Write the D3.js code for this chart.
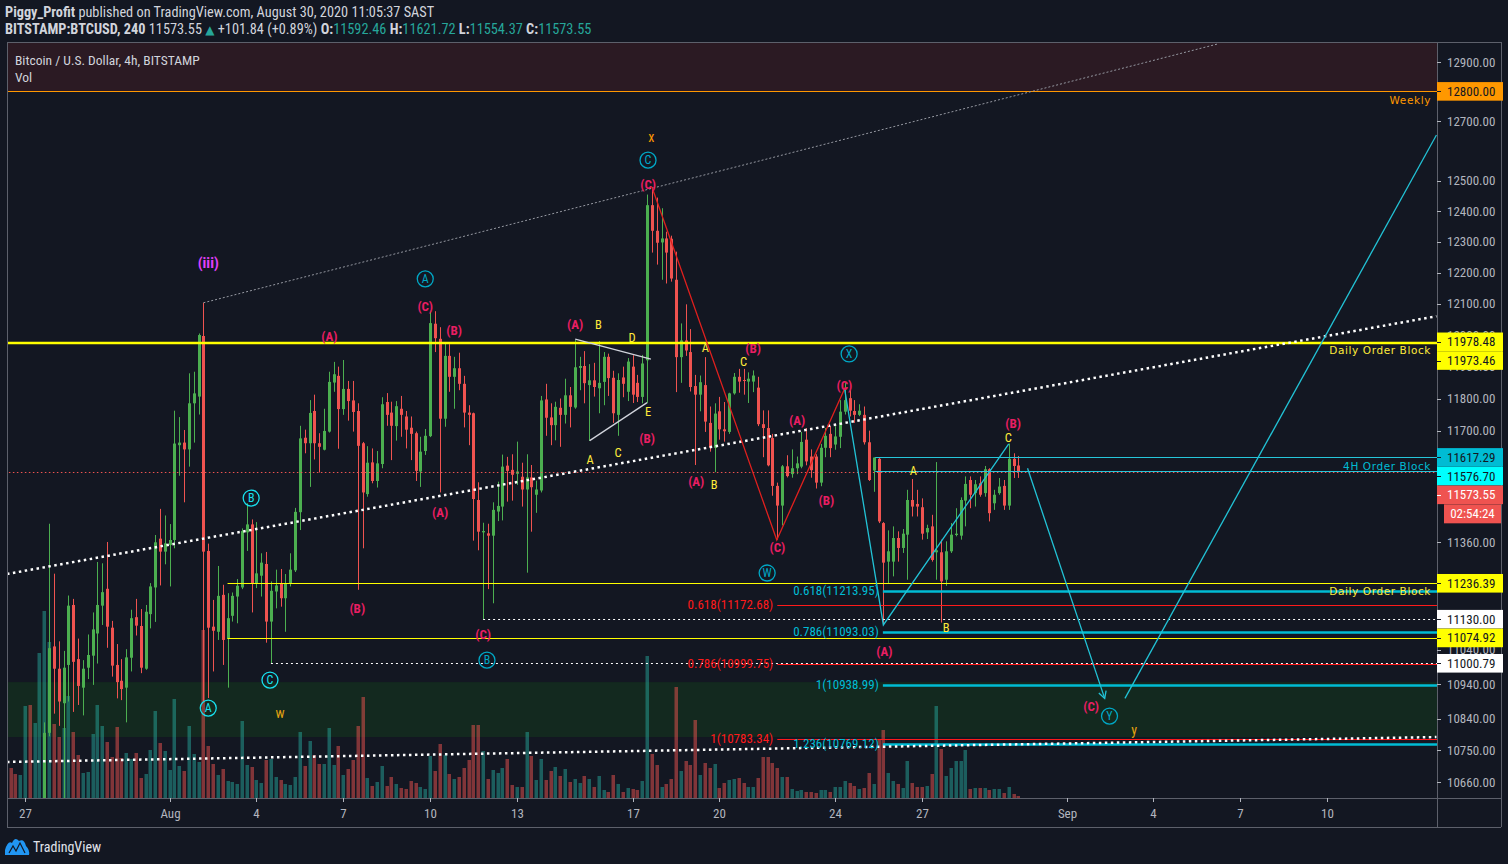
<!DOCTYPE html>
<html><head><meta charset="utf-8">
<script src="https://cdn.jsdelivr.net/npm/d3@7/dist/d3.min.js"></script>
<style>html,body{margin:0;padding:0;background:#131722;overflow:hidden}svg{display:block}</style>
</head><body>
<svg id="chart" width="1508" height="864"></svg>
<script>
// ---------------- DATA (4h bars, BITSTAMP:BTCUSD, first bar = 2020-07-26 12:00 UTC) ----------------
const opens=[9950,9880,9840,9900,10010,9960,10050,10180,10800,11050,
10985,10885,10996,11172,11013,10930,10988,11023,11088,11170,
11220,11105,10996,10950,10930,11017,11136,11110,10985,11145,
11224,11370,11331,11351,11366,11655,11663,11642,11785,11806,
11997,11333,11108,11093,11202,11072,11140,11197,11224,11389,
11413,11237,11259,11294,11123,11212,11237,11192,11237,11275,
11450,11678,11661,11761,11661,11641,11697,11850,11871,11767,
11830,11794,11761,11661,11505,11602,11545,11597,11789,11756,
11714,11768,11744,11709,11692,11574,11637,11683,12036,11988,
11737,11934,11868,11895,11846,11756,11754,11487,11389,11386,
11379,11452,11467,11592,11579,11567,11558,11519,11556,11503,
11516,11797,11741,11717,11771,11749,11810,11772,11896,11902,
11842,11857,11832,11852,11931,11865,11749,11866,11821,11900,
11849,11805,11920,12420,12336,12298,12311,12310,12177,11930,
11983,11946,11839,11812,11842,11724,11647,11760,11704,11696,
11816,11868,11858,11853,11853,11834,11720,11708,11677,11530,
11470,11590,11566,11584,11589,11672,11620,11620,11540,11647,
11690,11657,11681,11759,11801,11761,11749,11749,11664,11577,
11613,11417,11301,11301,11372,11342,11382,11487,11475,11465,
11389,11407,11329,11329,11247,11332,11381,11379,11485,11548,
11508,11538,11508,11581,11477,11508,11530,11470,11613,11592.46];
const highs=[9990,9960,9930,10060,10080,10090,10230,10830,11415,11265,
11065,11037,11200,11190,11073,11010,11085,11150,11300,11296,
11360,11125,11057,11013,11042,11158,11190,11160,11172,11237,
11381,11460,11440,11414,11762,11742,11702,11879,11884,12005,
12103,11355,11187,11288,11232,11207,11209,11249,11401,11477,
11428,11420,11326,11330,11242,11277,11279,11264,11326,11463,
11715,11703,11795,11812,11692,11768,11884,11915,11900,11921,
11855,11855,11785,11665,11652,11645,11637,11804,11817,11790,
11792,11808,11761,11744,11697,11681,11705,12078,12076,12025,
11978,11971,11931,11944,11871,11779,11756,11541,11418,11415,
11480,11543,11626,11619,11627,11666,11601,11627,11594,11546,
11808,11846,11785,11790,11800,11862,11836,11984,11931,11949,
11908,11912,11981,11946,11941,11887,11879,11900,11927,11936,
11874,11937,12455,12480,12445,12410,12333,12320,12268,12037,
12098,12019,11874,11872,11930,11775,11785,11805,11789,11818,
11880,11893,11893,11882,11888,11868,11763,11763,11690,11540,
11594,11624,11642,11620,11696,11708,11642,11627,11659,11708,
11714,11714,11795,11850,11826,11795,11782,11775,11700,11617,
11617,11420,11395,11407,11392,11399,11518,11551,11518,11492,
11412,11442,11603,11367,11362,11417,11462,11495,11559,11559,
11548,11559,11591,11584,11518,11554,11548,11660,11630,11621.72];
const lows=[9860,9800,9810,9880,9940,9930,10020,10150,10790,10855,
10820,10600,10890,10860,10880,10850,10955,10938,11000,11113,
11046,10962,10899,10894,10830,10977,11082,10972,10982,11103,
11122,11230,11293,11227,11341,11561,11480,11589,11663,11750,
10890,10900,10977,11069,10996,10930,11123,11118,11219,11333,
11150,11222,11197,11061,11001,11162,11167,11093,11227,11270,
11396,11630,11527,11611,11571,11639,11694,11821,11644,11749,
11731,11697,11217,11341,11497,11538,11525,11584,11715,11609,
11669,11681,11645,11609,11545,11527,11625,11680,11946,11510,
11712,11821,11768,11826,11710,11655,11364,11335,11130,11219,
11177,11423,11425,11482,11485,11533,11467,11268,11391,11448,
11510,11684,11655,11670,11650,11722,11710,11768,11826,11785,
11668,11806,11754,11779,11808,11724,11684,11804,11792,11786,
11789,11785,11786,12265,12226,12177,12165,12171,11820,11849,
11934,11822,11594,11760,11696,11635,11572,11672,11666,11690,
11812,11818,11812,11786,11820,11714,11618,11590,11500,11367,
11410,11556,11555,11566,11584,11593,11555,11522,11529,11618,
11618,11641,11646,11750,11744,11724,11745,11657,11545,11512,
11417,11113,11235,11257,11301,11327,11247,11437,11437,11367,
11369,11301,11247,11120,11229,11327,11377,11367,11407,11462,
11467,11497,11497,11422,11457,11503,11457,11457,11554,11554.37];
const closes=[9880,9840,9900,10010,9960,10050,10180,10800,11045,10985,
10890,10988,11170,11005,10935,10985,11025,11100,11172,11210,
11108,10994,10946,10926,11018,11133,11111,10988,11152,11227,
11359,11331,11356,11366,11660,11663,11642,11785,11816,12000,
11331,11105,11096,11199,11069,11133,11199,11229,11393,11413,
11237,11266,11298,11123,11214,11230,11192,11237,11277,11451,
11676,11661,11755,11661,11650,11699,11852,11876,11767,11830,
11792,11758,11653,11510,11601,11545,11599,11782,11749,11715,
11776,11749,11703,11690,11576,11635,11684,12038,11990,11737,
11934,11868,11895,11846,11756,11749,11490,11391,11393,11379,
11457,11469,11589,11576,11564,11574,11519,11556,11526,11519,
11794,11740,11717,11774,11749,11810,11774,11898,11902,11848,
11857,11836,11849,11931,11864,11754,11858,11846,11916,11812,
11805,11910,12420,12336,12297,12311,12265,12181,11930,11983,
11951,11836,11812,11851,11728,11647,11753,11704,11698,11816,
11868,11853,11856,11862,11872,11720,11708,11593,11530,11470,
11590,11560,11584,11599,11665,11605,11578,11540,11647,11684,
11646,11682,11759,11795,11762,11749,11762,11664,11548,11617,
11422,11298,11332,11372,11342,11385,11487,11467,11467,11385,
11402,11306,11335,11242,11332,11382,11385,11487,11536,11503,
11535,11503,11581,11447,11503,11528,11470,11613,11591,11573.55];
// volume, relative units
const volumes=[30,24,23,92,93,75,145,187,156,74,61,70,102,66,43,25,26,64,93,72,
56,41,71,40,45,39,45,20,24,48,87,55,47,28,99,32,27,72,44,36,
168,52,34,23,29,17,16,14,77,33,31,18,15,38,39,21,18,14,13,21,
66,32,57,43,34,34,70,33,52,23,29,38,72,101,20,12,16,32,12,21,
14,10,9,17,15,11,9,42,27,54,43,24,19,21,30,38,73,73,47,19,
28,25,30,39,13,11,11,66,42,18,39,18,27,31,22,29,16,19,15,22,
19,11,22,8,6,23,14,6,10,9,8,17,142,44,33,11,14,19,111,27,
37,33,78,23,35,30,34,10,15,18,19,20,15,11,11,20,41,41,35,30,
21,21,9,7,8,6,6,5,8,8,6,11,11,17,15,12,9,10,25,14,
58,68,25,17,14,10,37,15,11,11,12,24,92,49,22,30,37,37,48,9,
10,10,10,8,9,9,5,11,4,2];

// axis ticks
const priceTicks=[12900,12800,12700,12500,12400,12300,12200,12100,12000,11900,11800,11700,11360,11040,10940,10840,10750,10660];
const dateTicks=["2020-07-27","2020-08-01","2020-08-04","2020-08-07","2020-08-10","2020-08-13","2020-08-17","2020-08-20","2020-08-24","2020-08-27","2020-09-01","2020-09-04","2020-09-07","2020-09-10"];
const dateLabels=["27","Aug","4","7","10","13","17","20","24","27","Sep","4","7","10"];

// zones (price ranges)
const weeklyZone=[12800,13200];
const demandZone=[10788,10946];

// horizontal levels: [price, start bar]
const dailyOB=[[11978.48,-2],[11973.46,-2]];
const dailyOBLow=[[11236.39,45],[11074.92,45]];
const whiteDotLevels=[[11130.00,98],[11000.79,54]];
const fourHourOB=[[11617.29,179.3],[11576.70,179.3]];
const weeklyLevel=[12800,-2];
const lastPrice=11573.55;
const redFib=[["0.618",11172.68],["0.786",10999.75],["1",10783.34]];
const redFibStart=159;
const cyanFib=[["0.618",11213.95],["0.786",11093.03],["1",10938.99],["1.236",10769.12]];
const cyanFibStart=180.9;

// trend lines: [bar, price] pairs
const greyTrend=[[40,12103],[250.4,12962]];
const upperTrend=[[-0.73,11264],[295.7,12060]];
const lowerTrend=[[-0.73,10717],[295.7,10788]];
const redZigzag=[[133,12480],[158.9,11366],[173.1,11835]];
const cyanPath=[[173,11827],[181,11113],[207,11659]];
const cyanArrow=[[210.9,11584],[226.9,10899]];
const cyanUp=[[231.1,10899],[295.7,12653]];
const triUpper=[[117.1,11987],[132.8,11924]];
const triLower=[[120.1,11669],[132,11787]];

// wave labels: [bar, price, text]
const pinkLabels=[[66.1,11997,"(A)"],[71.9,11163,"(B)"],[86,12093,"(C)"],[92,12016,"(B)"],[89.1,11451,"(A)"],[98,11086,"(C)"],
[117.1,12035,"(A)"],[132,11677,"(B)"],[132.2,12490,"(C)"],[154,11959,"(B)"],[142.2,11545,"(A)"],[159,11345,"(C)"],
[163.1,11733,"(A)"],[169.2,11487,"(B)"],[172.9,11842,"(C)"],[181.2,11037,"(A)"],[207.9,11724,"(B)"],[224.1,10877,"(C)"]];
const yellowLabels=[[121.9,12035,"B"],[128.9,11991,"D"],[132.2,11758,"E"],[120.2,11612,"A"],[126,11631,"C"],
[144.1,11959,"A"],[145.9,11533,"B"],[152,11915,"C"],[187.2,11576,"A"],[194,11107,"B"],[206.9,11680,"C"]];
const orangeLabels=[[132.9,12646,"x"]];
const goldLabels=[[55.9,10857,"w"],[233,10808,"y"]];
const magentaLabels=[[41,12231,"(iii)"]];
const circledBright=[[41,10871,"A"],[49.9,11493,"B"],[53.8,10952,"C"]];
const circledDark=[[86,12180,"A"],[98.8,11010,"B"],[132.2,12569,"C"],[156.9,11267,"W"],[173.9,11940,"X"],[227.9,10848,"Y"]];

// price-axis marks
const axisMarks=[[12800,"#ff9800","#131722"],[11978.48,"#ffff00","#131722"],[11973.46,"#ffff00","#131722"],
[11617.29,"#00bcd4","#131722"],[11576.70,"#00ffff","#131722"],[11573.55,"#ef5350","#ffffff"],
[11236.39,"#ffff00","#131722"],[11130.00,"#ffffff","#131722"],[11074.92,"#ffff00","#131722"],[11000.79,"#ffffff","#131722"]];
const countdown="02:54:24";

// ---------------- DRAWING ----------------
const svg=d3.select('#chart');
const BG='#131722', TXT='#d1d4dc', AX='#b2b5be', FR='#5d606b';
const UP='#4caf50', DN='#ef5350';
const FONT="'Liberation Sans Narrow','Roboto Condensed',Roboto,sans-serif";
const plotL=7, plotR=1437, plotT=42, plotB=798, axisB=827, outerR=1501;
const T0=Date.UTC(2020,6,26,12), H4=4*3600*1000;
const barTime=i=>new Date(T0+i*H4);
const x=d3.scaleUtc().domain([new Date(Date.UTC(2020,6,27)),new Date(Date.UTC(2020,8,10))]).range([25,1327]);
const y=d3.scaleLog().domain([10660,12900]).range([782.1,62]);
const vy=d3.scaleLinear().domain([0,187]).range([plotB,plotB-187]);
const bx=i=>x(barTime(i));
const cy=v=>Math.round(y(v))+0.5;

svg.append('rect').attr('width',1508).attr('height',864).attr('fill',BG);
svg.append('defs').append('clipPath').attr('id','clip').append('rect')
  .attr('x',plotL).attr('y',plotT).attr('width',plotR-plotL).attr('height',plotB-plotT);

const plot=svg.append('g').attr('clip-path','url(#clip)');
// zones
plot.append('rect').attr('x',plotL).attr('width',plotR-plotL)
  .attr('y',y(weeklyZone[1])).attr('height',y(weeklyZone[0])-y(weeklyZone[1])).attr('fill','#2b1a23');
plot.append('rect').attr('x',plotL).attr('width',plotR-plotL)
  .attr('y',y(demandZone[1])).attr('height',y(demandZone[0])-y(demandZone[1])).attr('fill','#13291f');

// volume
const idx=d3.range(opens.length);
plot.append('g').selectAll('rect').data(idx).join('rect')
  .attr('x',i=>Math.round(bx(i))-1.5).attr('width',3.5)
  .attr('y',i=>vy(volumes[i])).attr('height',i=>plotB-vy(volumes[i]))
  .attr('fill',i=>closes[i]>=opens[i]?'#26a69a':'#ef5350').attr('fill-opacity',0.5);

// candles
const cg=plot.append('g');
cg.selectAll('line').data(idx).join('line')
  .attr('x1',i=>Math.round(bx(i))+0.5).attr('x2',i=>Math.round(bx(i))+0.5)
  .attr('y1',i=>y(highs[i])).attr('y2',i=>y(lows[i]))
  .attr('stroke',i=>closes[i]>=opens[i]?UP:DN).attr('stroke-width',1);
cg.selectAll('rect').data(idx).join('rect')
  .attr('x',i=>Math.round(bx(i))-1).attr('width',3)
  .attr('y',i=>Math.min(y(opens[i]),y(closes[i])))
  .attr('height',i=>Math.max(1,Math.abs(y(opens[i])-y(closes[i]))))
  .attr('fill',i=>closes[i]>=opens[i]?UP:DN);

// horizontal levels
const hline=(p,start,color,w,dash)=>{
  const l=plot.append('line').attr('x1',bx(start)).attr('x2',plotR).attr('y1',w%2?cy(p):y(p)).attr('y2',w%2?cy(p):y(p))
   .attr('stroke',color).attr('stroke-width',w);
  if(dash) l.attr('stroke-dasharray',dash);
};
hline(weeklyLevel[0],weeklyLevel[1],'#ff9800',1);
hline(lastPrice,-2,'#ef5350',1,'1.5,2.5');
dailyOBLow.forEach(d=>hline(d[0],d[1],'#ffff00',1));
fourHourOB.forEach(d=>hline(d[0],d[1],'#26c6da',1));
redFib.forEach(d=>hline(d[1],redFibStart,'#ff1a1a',1));
whiteDotLevels.forEach(d=>hline(d[0],d[1],'#ffffff',1,'2,3'));
cyanFib.forEach(d=>hline(d[1],cyanFibStart,'#00bcd4',2.5));
dailyOB.forEach(d=>hline(d[0],d[1],'#ffff00',1.5));

// trend lines
const line=d3.line().x(d=>bx(d[0])).y(d=>y(d[1]));
const path=(data,color,w,dash)=>{
  const p=plot.append('path').attr('d',line(data)).attr('fill','none').attr('stroke',color).attr('stroke-width',w);
  if(dash) p.attr('stroke-dasharray',dash);
  return p;
};
path(greyTrend,'#9598a1',1,'2,2');
path(upperTrend,'#ffffff',2.5,'2.5,3.5');
path(lowerTrend,'#ffffff',2.5,'2.5,3.5');
path(triUpper,'#d1d4dc',1.3);
path(triLower,'#d1d4dc',1.3);
path(redZigzag,'#e0201e',1.3);
path(cyanPath,'#22c3d6',1.3);
path(cyanArrow,'#22c3d6',1.3);
path(cyanUp,'#22c3d6',1.3);
// arrow head
{
  const [a,b]=cyanArrow; const x1=bx(a[0]),y1=y(a[1]),x2=bx(b[0]),y2=y(b[1]);
  const ang=Math.atan2(y2-y1,x2-x1), L=8, s=0.5;
  const pts=[[x2-L*Math.cos(ang-s),y2-L*Math.sin(ang-s)],[x2,y2],[x2-L*Math.cos(ang+s),y2-L*Math.sin(ang+s)]];
  plot.append('path').attr('d',d3.line()(pts)).attr('fill','none').attr('stroke','#22c3d6').attr('stroke-width',1.3);
}

// level texts
const ltxt=(p,dy,t,c)=>plot.append('text').attr('x',1431).attr('y',y(p)+dy).attr('text-anchor','end')
  .attr('font-family','DejaVu Sans,Verdana,sans-serif').attr('font-size',10.5).attr('letter-spacing',0.6).attr('fill',c).text(t);
ltxt(12800,13,'Weekly','#ff9800');
ltxt(11978.48,12,'Daily Order Block','#ffeb3b');
ltxt(11617.29,13,'4H Order Block','#00bcd4');
ltxt(11236.39,12,'Daily Order Block','#ffeb3b');

// fib texts
const fibText=(arr,start,col)=>arr.forEach(d=>plot.append('text').attr('x',bx(start)-4).attr('y',y(d[1]))
  .attr('dy','0.35em').attr('text-anchor','end').attr('font-family',FONT).attr('font-size',13).attr('fill',col)
  .text(`${d[0]}(${d3.format('.2f')(d[1])})`));
fibText(redFib,redFibStart,'#ff1a1a');
fibText(cyanFib,cyanFibStart,'#00bcd4');

// wave labels
const lab=(arr,col,size,weight)=>arr.forEach(d=>plot.append('text').attr('x',bx(d[0])).attr('y',y(d[1]))
  .attr('dy','0.36em').attr('text-anchor','middle').attr('font-family',FONT).attr('font-size',size)
  .attr('font-weight',weight).attr('fill',col).text(d[2]));
lab(pinkLabels,'#e91e63',13,'bold');
lab(yellowLabels,'#ffeb3b',12.5,'normal');
lab(orangeLabels,'#ff9800',14,'normal');
lab(goldLabels,'#e0a010',14,'normal');
lab(magentaLabels,'#e040fb',15,'bold');
const circ=(arr,col)=>arr.forEach(d=>{
  const g=plot.append('g').attr('transform',`translate(${bx(d[0])},${y(d[1])})`);
  g.append('circle').attr('r',8).attr('fill','none').attr('stroke',col).attr('stroke-width',1.3);
  g.append('text').attr('dy','0.36em').attr('text-anchor','middle').attr('font-family',FONT).attr('font-size',12).attr('fill',col).text(d[2]);
});
circ(circledBright,'#18e0ee');
circ(circledDark,'#00a8c6');

// ---------- frame & axes ----------
const fr=svg.append('g').attr('stroke',FR).attr('stroke-width',1).attr('shape-rendering','crispEdges');
fr.append('line').attr('x1',plotL).attr('x2',outerR).attr('y1',plotT).attr('y2',plotT);
fr.append('line').attr('x1',plotL).attr('x2',plotL).attr('y1',plotT).attr('y2',axisB);
fr.append('line').attr('x1',plotR).attr('x2',plotR).attr('y1',plotT).attr('y2',axisB);
fr.append('line').attr('x1',outerR).attr('x2',outerR).attr('y1',plotT).attr('y2',axisB);
fr.append('line').attr('x1',plotL).attr('x2',outerR).attr('y1',plotB).attr('y2',plotB);
fr.append('line').attr('x1',plotL).attr('x2',outerR).attr('y1',axisB).attr('y2',axisB);

// price axis ticks
const pa=svg.append('g');
priceTicks.forEach(v=>{
  pa.append('line').attr('x1',plotR).attr('x2',plotR+4).attr('y1',cy(v)).attr('y2',cy(v)).attr('stroke',AX);
  pa.append('text').attr('x',plotR+10).attr('y',y(v)).attr('dy','0.35em').attr('font-family',FONT)
    .attr('font-size',13).attr('fill',AX).text(d3.format('.2f')(v));
});
// price marks with stacking
let prev=-1e9;
axisMarks.forEach(m=>{
  let yy=Math.max(y(m[0]),prev+18.7); prev=yy;
  pa.append('rect').attr('x',plotR).attr('y',yy-9.3).attr('width',outerR-plotR+2).attr('height',18.6).attr('fill',m[1]);
  pa.append('line').attr('x1',plotR).attr('x2',plotR+4).attr('y1',Math.round(yy)+0.5).attr('y2',Math.round(yy)+0.5).attr('stroke',m[2]);
  pa.append('text').attr('x',plotR+10).attr('y',yy).attr('dy','0.35em').attr('font-family',FONT)
    .attr('font-size',13).attr('fill',m[2]).text(d3.format('.2f')(m[0]));
  if(m[0]===lastPrice){
    prev=yy+19;
    pa.append('rect').attr('x',plotR+7).attr('y',prev-9.5).attr('width',outerR-plotR-7).attr('height',19).attr('fill','#ef5350');
    pa.append('text').attr('x',(plotR+7+outerR)/2).attr('y',prev).attr('dy','0.35em').attr('text-anchor','middle')
      .attr('font-family',FONT).attr('font-size',13).attr('fill','#ffffff').text(countdown);
  }
});

// date axis
const da=svg.append('g');
dateTicks.forEach((d,k)=>{
  const xx=Math.round(x(new Date(d+'T00:00:00Z')))+0.5;
  da.append('line').attr('x1',xx).attr('x2',xx).attr('y1',plotB).attr('y2',plotB+4).attr('stroke',AX);
  da.append('text').attr('x',xx).attr('y',818).attr('text-anchor','middle').attr('font-family',FONT)
    .attr('font-size',13).attr('fill',AX).text(dateLabels[k]);
});

// header
const hd=svg.append('g').attr('font-family',FONT).attr('fill',TXT).attr('font-size',14.3);
const h1=hd.append('text').attr('x',5).attr('y',17);
h1.append('tspan').attr('font-weight','bold').text('Piggy_Profit');
h1.append('tspan').text(' published on TradingView.com, August 30, 2020 11:05:37 SAST');
const h2=hd.append('text').attr('x',5).attr('y',34);
h2.append('tspan').attr('font-weight','bold').text('BITSTAMP:BTCUSD, 240');
h2.append('tspan').text(' 11573.55 ');
h2.append('tspan').attr('fill','#26a69a').attr('font-family','DejaVu Sans').attr('font-size',12).text('▲');
h2.append('tspan').text(' +101.84 (+0.89%) ');
[['O:','11592.46'],['H:','11621.72'],['L:','11554.37'],['C:','11573.55']].forEach((p,k)=>{
  h2.append('tspan').attr('font-weight','bold').text((k?'  ':' ')+p[0]);
  h2.append('tspan').attr('fill','#26a69a').text(p[1]);
});
svg.append('text').attr('x',15).attr('y',65).attr('font-family',FONT).attr('font-size',13.5).attr('fill',TXT).text('Bitcoin / U.S. Dollar, 4h, BITSTAMP');
svg.append('text').attr('x',15).attr('y',82).attr('font-family',FONT).attr('font-size',13.5).attr('fill',TXT).text('Vol');

// logo
svg.append('path').attr('d','M5,855 L5,850 Q8,840 12,843 Q15,836 19,841 Q24,838 26,846 Q30,850 29,855 Z').attr('fill','#2196f3');
svg.append('path').attr('d','M9,853 L13,846 L16,851 L20,843 L25,853').attr('fill','none').attr('stroke','#131722').attr('stroke-width',1.2);
svg.append('text').attr('x',33).attr('y',852).attr('font-family',FONT).attr('font-size',14).attr('fill','#e0e3eb').text('TradingView');
</script>
</body></html>
